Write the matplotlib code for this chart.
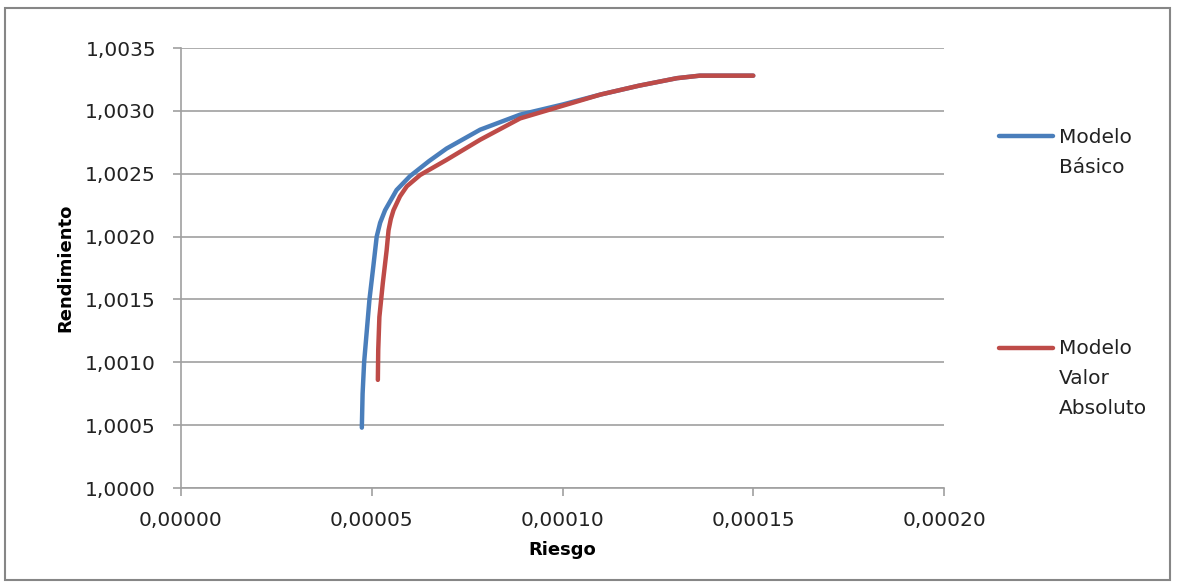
import matplotlib
matplotlib.use("Agg")
import matplotlib.pyplot as plt
from matplotlib.lines import Line2D
from matplotlib.patches import Rectangle
from matplotlib.ticker import FuncFormatter

# Modelo Básico (riesgo, rendimiento)
basico_x = [4.74e-5, 4.76e-5, 4.80e-5, 4.87e-5, 4.94e-5, 5.04e-5, 5.13e-5, 5.22e-5,
            5.35e-5, 5.50e-5, 5.65e-5, 6.00e-5, 6.50e-5, 6.96e-5, 7.84e-5, 8.89e-5,
            1.00e-4, 1.10e-4, 1.20e-4, 1.30e-4, 1.36e-4, 1.42e-4, 1.50e-4]
basico_y = [1.00048, 1.00075, 1.00100, 1.00125, 1.00150, 1.00176, 1.00200, 1.00211,
            1.00221, 1.00229, 1.00237, 1.00248, 1.00260, 1.00270, 1.00285, 1.00297,
            1.00305, 1.00313, 1.00320, 1.00326, 1.00328, 1.00328, 1.00328]

# Modelo Valor Absoluto
valor_x = [5.16e-5, 5.17e-5, 5.20e-5, 5.29e-5, 5.34e-5, 5.39e-5, 5.44e-5, 5.50e-5,
           5.57e-5, 5.74e-5, 5.92e-5, 6.27e-5, 6.96e-5, 7.84e-5, 8.89e-5, 1.00e-4,
           1.10e-4, 1.20e-4, 1.30e-4, 1.36e-4, 1.42e-4, 1.50e-4]
valor_y = [1.00086, 1.00110, 1.00136, 1.00163, 1.00176, 1.00189, 1.00205, 1.00214,
           1.00221, 1.00232, 1.00240, 1.00249, 1.00261, 1.00277, 1.00294, 1.00304,
           1.00313, 1.00320, 1.00326, 1.00328, 1.00328, 1.00328]

xticks = [0, 0.00005, 0.0001, 0.00015, 0.0002]
yticks = [1.0, 1.0005, 1.001, 1.0015, 1.002, 1.0025, 1.003, 1.0035]

azul = "#4A7EBB"
rojo = "#BE4B48"
gris = "#A0A0A0"

fig = plt.figure(figsize=(11.79, 5.87), dpi=100)
ax = fig.add_axes([181 / 1179, 1 - 488 / 587, (944 - 181) / 1179, (488 - 48) / 587])

ax.plot(basico_x, basico_y, color=azul, lw=3.2, solid_capstyle="round",
        solid_joinstyle="round", zorder=3)
ax.plot(valor_x, valor_y, color=rojo, lw=3.2, solid_capstyle="round",
        solid_joinstyle="round", zorder=4)

ax.set_xlim(0, 0.0002)
ax.set_ylim(1.0, 1.0035)
ax.set_xticks(xticks)
ax.set_yticks(yticks)
ax.xaxis.set_major_formatter(FuncFormatter(lambda v, p: f"{v:.5f}".replace(".", ",")))
ax.yaxis.set_major_formatter(FuncFormatter(lambda v, p: f"{v:.4f}".replace(".", ",")))
ax.grid(axis="y", color=gris, lw=1.2)
ax.set_axisbelow(True)
for s in ["top", "right"]:
    ax.spines[s].set_visible(False)
for s in ["left", "bottom"]:
    ax.spines[s].set_color(gris)
    ax.spines[s].set_linewidth(1.2)
ax.tick_params(axis="both", colors=gris, length=5.5, width=1.2, labelsize=14.5,
               labelcolor="#222222")
ax.tick_params(axis="y", pad=12.5)
ax.tick_params(axis="x", pad=11)

ax.set_xlabel("Riesgo", fontsize=13, fontweight="bold", labelpad=8)
ax.set_ylabel("Rendimiento", fontsize=13, fontweight="bold", labelpad=8)

# leyenda
def fx(px):
    return px / 1179

def fy(py):
    return 1 - py / 587

fig.add_artist(Line2D([fx(999), fx(1053)], [fy(136), fy(136)], color=azul, lw=3.2,
                      solid_capstyle="round"))
fig.text(fx(1059), fy(128), "Modelo\nBásico", fontsize=14.5, va="top", ha="left",
         linespacing=1.75, color="#222222")
fig.add_artist(Line2D([fx(999), fx(1053)], [fy(348), fy(348)], color=rojo, lw=3.2,
                      solid_capstyle="round"))
fig.text(fx(1059), fy(339), "Modelo\nValor\nAbsoluto", fontsize=14.5, va="top",
         ha="left", linespacing=1.75, color="#222222")

fig.add_artist(Rectangle((fx(5), fy(580)), fx(1165), 572 / 587, transform=fig.transFigure,
                         fill=False, edgecolor="#868686", lw=1.5))

fig.savefig("out.png", dpi=100)
